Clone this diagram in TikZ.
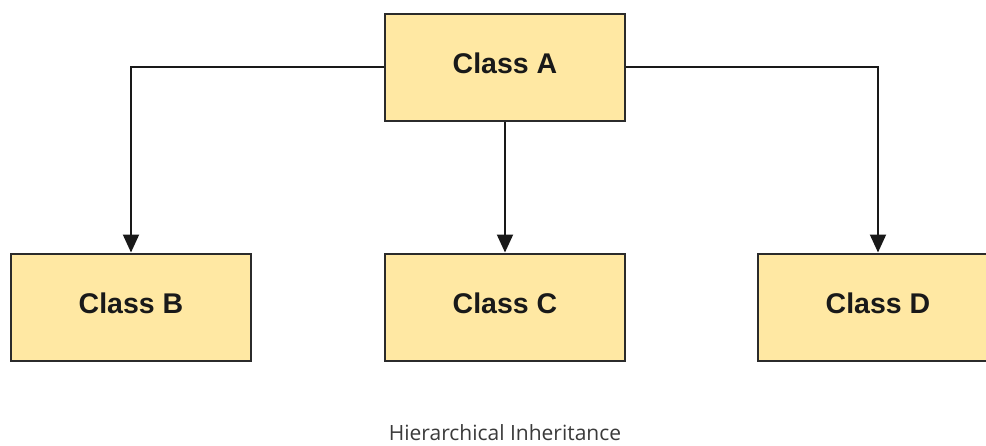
\documentclass[tikz,border=0pt]{standalone}
\usepackage{fontspec}
\setmainfont{Liberation Sans}
\newfontfamily\capfont{Open Sans}
\usetikzlibrary{arrows.meta}
\definecolor{boxfill}{HTML}{FFE8A3}
\definecolor{boxline}{HTML}{2B2B2B}
\definecolor{captext}{HTML}{3A3A3A}
\begin{document}
\begin{tikzpicture}[x=1pt,y=-1pt,
  classbox/.style={draw=boxline, line width=2pt, fill=boxfill, minimum width=240pt, minimum height=107pt, inner sep=0pt, text depth=8pt, font=\fontsize{28.5}{32}\selectfont\bfseries, text=black!90},
  link/.style={draw=black!90, line width=2pt, -{Triangle[width=16pt,length=18pt]}}]
\useasboundingbox (0,0) rectangle (986,445);
\clip (0,0) rectangle (986,445);
\node[classbox] (A) at (505,67) {Class A};
\node[classbox] (B) at (131,307) {Class B};
\node[classbox] (C) at (505,307) {Class C};
\node[classbox] (D) at (878,307) {Class D};
\draw[link] (A.west) -| (B.north);
\draw[link] (A.south) -- (C.north);
\draw[link] (A.east) -| (D.north);
\node[font=\capfont\fontsize{21}{24}\selectfont, text=captext] (cap) at (505,433) {Hierarchical Inheritance};
\end{tikzpicture}
\end{document}
